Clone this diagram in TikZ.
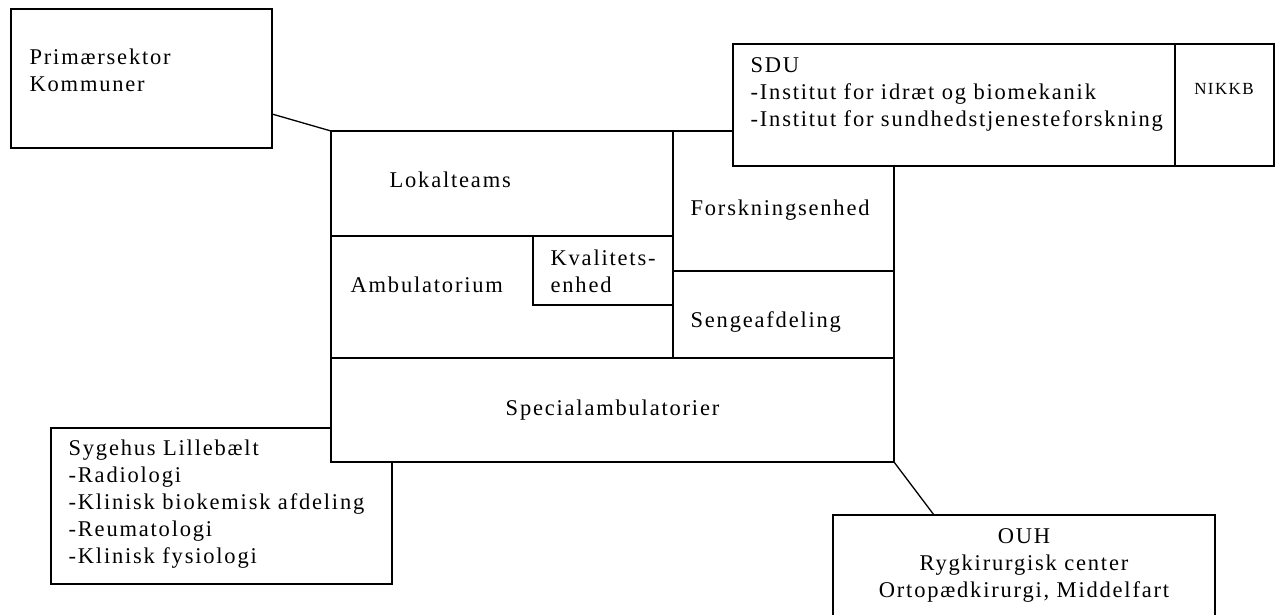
\documentclass[tikz,border=0pt]{standalone}
\usepackage{fontspec}
\setmainfont{Liberation Serif}[LetterSpace=8]
\usetikzlibrary{positioning}

\tikzset{
  box/.style={draw, fill=white, rectangle, inner sep=0pt, outer sep=0pt, anchor=north west},
  txt/.style={inner sep=0pt, anchor=base west, align=left},
}

\begin{document}
\begin{tikzpicture}[x=1pt, y=-1pt, line width=1.3pt, font=\fontsize{22.5}{27}\selectfont]
      \clip (0,0) rectangle (1276,615);
      % outer boxes
      \node[box, minimum width=261pt, minimum height=139pt] (prim) at (11,9) {};
      \node[box, minimum width=341pt, minimum height=156pt] (syg) at (51,428) {};
      \node[box, minimum width=563pt, minimum height=331pt] (main) at (331,131) {};
      % cells of the main box
      \node[box, minimum width=342pt, minimum height=105pt] (lok) at (main.north west) {};
      \node[box, minimum width=342pt, minimum height=122pt] (amb) at (lok.south west) {};
      \node[box, minimum width=140pt, minimum height=69pt] (kval) at (533,236) {};
      \node[box, minimum width=221pt, minimum height=140pt] (forsk) at (lok.north east) {};
      \node[box, minimum width=221pt, minimum height=87pt] (seng) at (forsk.south west) {};
      \node[box, minimum width=563pt, minimum height=104pt] (spec) at (amb.south west) {};
      % boxes lying over the main box
      \node[box, minimum width=442pt, minimum height=122pt] (sdu) at (733,44) {};
      \node[box, minimum width=99pt, minimum height=122pt] (nikkb) at (sdu.north east) {};
      \node[box, minimum width=382pt, minimum height=140pt] (ouh) at (833,515) {};
      % connectors
      \coordinate (prim-out) at (272,114);
      \coordinate (ouh-in) at (934,515);
      \draw (prim-out) -- (main.north west);
      \draw (main.south east) -- (ouh-in);
      % texts (multi-line nodes sit on their last baseline)
      \node[txt] (t-prim) at (29,92) {Primærsektor\\Kommuner};
      \node[txt] (t-lok) at (389,187) {Lokalteams};
      \node[txt] (t-forsk) at (690,215) {Forskningsenhed};
      \node[txt] (t-amb) at (350,292) {Ambulatorium};
      \node[txt] (t-kval) at (550,292) {Kvalitets-\\enhed};
      \node[txt] (t-seng) at (690,327) {Sengeafdeling};
      \node[txt, anchor=base] (t-spec) at (612.5,415) {Specialambulatorier};
      \node[txt] (t-sdu) at (750,127) {SDU\\-Institut for idræt og biomekanik\\-Institut for sundhedstjenesteforskning};
      \node[txt, anchor=base, font=\fontsize{17}{20}\selectfont] (t-nikkb) at (1224,95) {NIKKB};
      \node[txt] (t-syg) at (68,563) {Sygehus Lillebælt\\-Radiologi\\-Klinisk biokemisk afdeling\\-Reumatologi\\-Klinisk fysiologi};
      \node[txt, anchor=base, align=center] (t-ouh) at (1024,597) {OUH\\Rygkirurgisk center\\Ortopædkirurgi, Middelfart};
    \end{tikzpicture}
\end{document}
